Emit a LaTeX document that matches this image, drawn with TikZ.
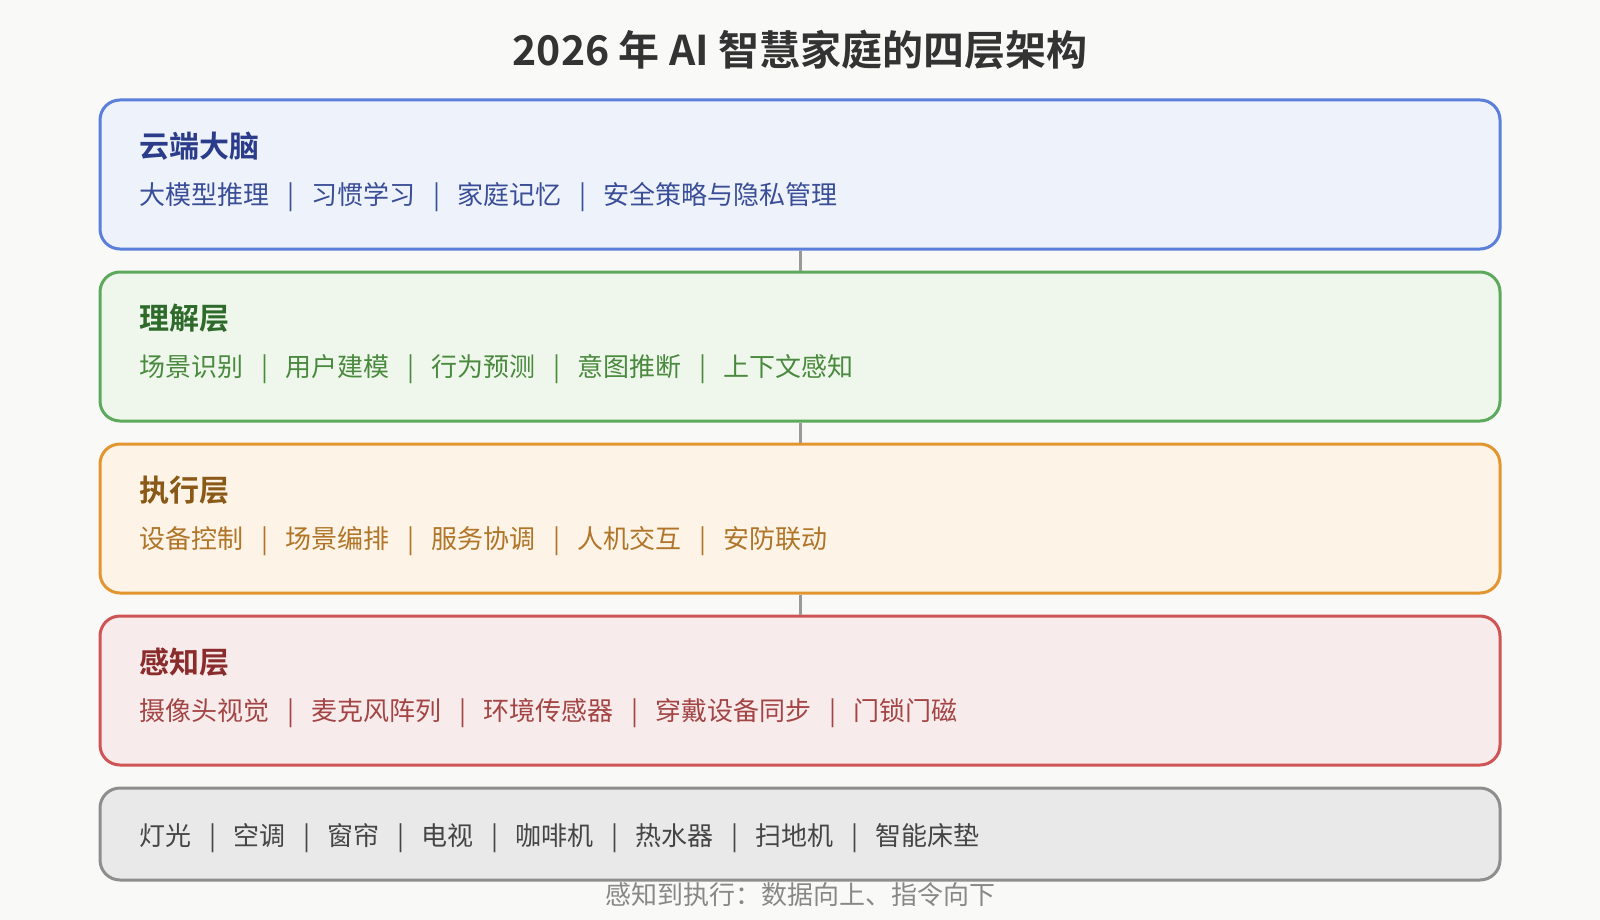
\documentclass[tikz,border=0pt]{standalone}
\usepackage{fontspec}
\setmainfont{Noto Sans CJK SC}[BoldFont={Noto Sans CJK SC Bold}]
\usetikzlibrary{positioning}

\definecolor{pagebg}{HTML}{F9F9F8}
\definecolor{titlegray}{HTML}{333333}
\definecolor{linkgray}{HTML}{999999}
\definecolor{notegray}{HTML}{888888}
\definecolor{cloudfill}{HTML}{EEF2FB}
\definecolor{clouddraw}{HTML}{5B7FDB}
\definecolor{cloudhead}{HTML}{2A3C8A}
\definecolor{clouditem}{HTML}{3A4E98}
\definecolor{underfill}{HTML}{EFF7EC}
\definecolor{underdraw}{HTML}{5DAA5D}
\definecolor{underhead}{HTML}{2E6A2A}
\definecolor{underitem}{HTML}{4A8A3E}
\definecolor{execfill}{HTML}{FDF3E6}
\definecolor{execdraw}{HTML}{E3962F}
\definecolor{exechead}{HTML}{8A5817}
\definecolor{execitem}{HTML}{B07528}
\definecolor{sensefill}{HTML}{F8EBEB}
\definecolor{sensedraw}{HTML}{CF5555}
\definecolor{sensehead}{HTML}{8A2C2C}
\definecolor{senseitem}{HTML}{A44545}
\definecolor{devfill}{HTML}{E9E9E9}
\definecolor{devdraw}{HTML}{8E8E8E}
\definecolor{devitem}{HTML}{454545}

\newcommand{\sepbar}{\hspace{17.5pt}|\hspace{17.5pt}}

\tikzset{
  layerbox/.style={draw, rounded corners=20pt, line width=3pt, minimum width=1400pt, minimum height=149pt},
  layertitle/.style={anchor=west, inner sep=0pt, font=\fontsize{30}{34}\selectfont\bfseries},
  layeritems/.style={anchor=west, inner sep=0pt, font=\fontsize{26}{30}\selectfont},
  link/.style={draw=linkgray, line width=3pt},
}

\begin{document}
\begin{tikzpicture}[x=1pt, y=-1pt]
\fill[pagebg] (0,0) rectangle (1600,920);
\useasboundingbox (0,0) rectangle (1600,920);
% Title
\node[font=\fontsize{41}{46}\selectfont\bfseries, text=titlegray] (title) at (800,50) {2026 年 AI 智慧家庭的四层架构};
% Layers
\node[layerbox, fill=cloudfill, draw=clouddraw, anchor=north] (cloud) at (800,98.5) {};
\node[layerbox, fill=underfill, draw=underdraw, below=20pt of cloud] (under) {};
\node[layerbox, fill=execfill, draw=execdraw, below=20pt of under] (exec) {};
\node[layerbox, fill=sensefill, draw=sensedraw, below=20pt of exec] (sense) {};
\node[layerbox, fill=devfill, draw=devdraw, minimum height=92pt, below=20pt of sense] (dev) {};
% Links
\draw[link] (cloud.south) -- (under.north);
\draw[link] (under.south) -- (exec.north);
\draw[link] (exec.south) -- (sense.north);
% Text
\node[layertitle, text=cloudhead, xshift=41pt, yshift=-48pt] at (cloud.north west) {云端大脑};
\node[layeritems, text=clouditem, xshift=41pt, yshift=-99pt] at (cloud.north west) {大模型推理\sepbar 习惯学习\sepbar 家庭记忆\sepbar 安全策略与隐私管理};

\node[layertitle, text=underhead, xshift=41pt, yshift=-48pt] at (under.north west) {理解层};
\node[layeritems, text=underitem, xshift=41pt, yshift=-99pt] at (under.north west) {场景识别\sepbar 用户建模\sepbar 行为预测\sepbar 意图推断\sepbar 上下文感知};

\node[layertitle, text=exechead, xshift=41pt, yshift=-48pt] at (exec.north west) {执行层};
\node[layeritems, text=execitem, xshift=41pt, yshift=-99pt] at (exec.north west) {设备控制\sepbar 场景编排\sepbar 服务协调\sepbar 人机交互\sepbar 安防联动};

\node[layertitle, text=sensehead, xshift=41pt, yshift=-48pt] at (sense.north west) {感知层};
\node[layeritems, text=senseitem, xshift=41pt, yshift=-99pt] at (sense.north west) {摄像头视觉\sepbar 麦克风阵列\sepbar 环境传感器\sepbar 穿戴设备同步\sepbar 门锁门磁};

\node[layeritems, text=devitem, xshift=41pt, yshift=-4pt] at (dev.west) {灯光\sepbar 空调\sepbar 窗帘\sepbar 电视\sepbar 咖啡机\sepbar 热水器\sepbar 扫地机\sepbar 智能床垫};

\node[font=\fontsize{26}{30}\selectfont, text=notegray] (note) at (800,895) {感知到执行：数据向上、指令向下};
\end{tikzpicture}
\end{document}
